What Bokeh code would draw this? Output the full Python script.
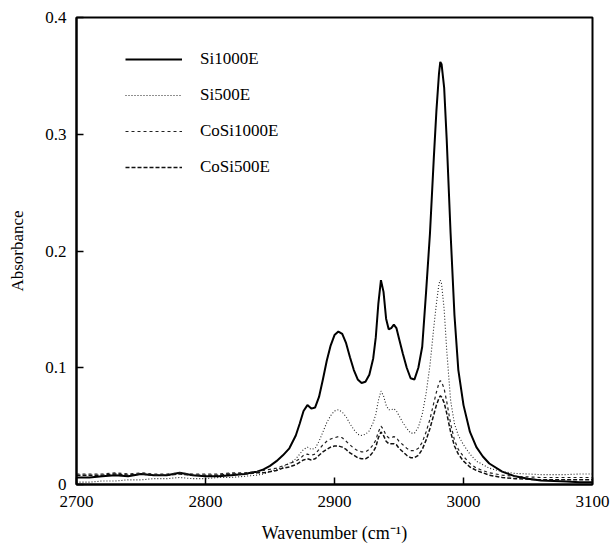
from bokeh.plotting import figure
from bokeh.models import Range1d, FixedTicker, CustomJSTickFormatter, Legend, LegendItem
from bokeh.embed import file_html
from bokeh.resources import INLINE

wavenumber = [2700, 2710, 2720, 2730, 2740, 2750, 2760, 2770, 2780, 2790, 2800, 2810, 2820, 2830,
              2840, 2845, 2850, 2855, 2860, 2865, 2870, 2873, 2876, 2879, 2882, 2885, 2888, 2891,
              2894, 2897, 2900, 2903, 2906, 2909, 2912, 2915, 2918, 2921, 2924, 2927, 2930, 2932,
              2934, 2936, 2938, 2940, 2942, 2944, 2946, 2948, 2950, 2953, 2956, 2959, 2962, 2965,
              2968, 2971, 2974, 2977, 2979, 2981, 2982, 2983, 2985, 2987, 2990, 2993, 2996, 3000,
              3005, 3010, 3015, 3020, 3030, 3040, 3050, 3060, 3070, 3080, 3090, 3100]

si1000e = [0.006, 0.006, 0.007, 0.008, 0.007, 0.009, 0.008, 0.008, 0.010, 0.008, 0.007, 0.007, 0.008, 0.009,
           0.011, 0.013, 0.016, 0.020, 0.025, 0.031, 0.042, 0.052, 0.063, 0.068, 0.065, 0.066, 0.075, 0.090,
           0.106, 0.119, 0.128, 0.131, 0.129, 0.121, 0.109, 0.098, 0.090, 0.087, 0.088, 0.094, 0.108, 0.126,
           0.155, 0.175, 0.165, 0.142, 0.133, 0.134, 0.137, 0.134, 0.125, 0.112, 0.100, 0.091, 0.090, 0.100,
           0.118, 0.165, 0.215, 0.280, 0.320, 0.352, 0.362, 0.360, 0.340, 0.295, 0.215, 0.145, 0.098, 0.068,
           0.045, 0.032, 0.024, 0.018, 0.011, 0.007, 0.005, 0.0035, 0.003, 0.0025, 0.002, 0.002]

si500e = [0.002, 0.002, 0.003, 0.003, 0.004, 0.004, 0.005, 0.005, 0.006, 0.005, 0.005, 0.006, 0.006, 0.007,
          0.008, 0.009, 0.011, 0.013, 0.015, 0.018, 0.022, 0.026, 0.030, 0.032, 0.030, 0.031, 0.037, 0.045,
          0.053, 0.059, 0.063, 0.064, 0.062, 0.058, 0.052, 0.047, 0.043, 0.042, 0.043, 0.046, 0.053, 0.060,
          0.072, 0.080, 0.076, 0.068, 0.064, 0.064, 0.065, 0.063, 0.059, 0.053, 0.048, 0.044, 0.044, 0.049,
          0.060, 0.078, 0.102, 0.135, 0.155, 0.172, 0.175, 0.172, 0.150, 0.115, 0.072, 0.052, 0.042, 0.034,
          0.026, 0.020, 0.017, 0.014, 0.011, 0.0095, 0.009, 0.0085, 0.0085, 0.0085, 0.009, 0.009]

cosi1000e = [0.009, 0.009, 0.009, 0.010, 0.009, 0.010, 0.009, 0.009, 0.010, 0.009, 0.009, 0.009, 0.010, 0.010,
             0.011, 0.012, 0.013, 0.014, 0.016, 0.018, 0.020, 0.022, 0.025, 0.026, 0.025, 0.026, 0.030, 0.034,
             0.037, 0.039, 0.040, 0.041, 0.040, 0.037, 0.034, 0.031, 0.029, 0.028, 0.028, 0.030, 0.034, 0.038,
             0.045, 0.050, 0.047, 0.042, 0.040, 0.040, 0.041, 0.040, 0.037, 0.034, 0.031, 0.029, 0.029, 0.031,
             0.036, 0.045, 0.056, 0.070, 0.079, 0.087, 0.089, 0.088, 0.082, 0.071, 0.052, 0.038, 0.030, 0.024,
             0.018, 0.014, 0.012, 0.010, 0.008, 0.007, 0.0065, 0.006, 0.006, 0.006, 0.006, 0.006]

cosi500e = [0.008, 0.008, 0.008, 0.009, 0.008, 0.009, 0.008, 0.008, 0.009, 0.008, 0.008, 0.008, 0.009, 0.009,
            0.010, 0.010, 0.011, 0.012, 0.014, 0.015, 0.017, 0.019, 0.021, 0.022, 0.021, 0.022, 0.025, 0.028,
            0.030, 0.032, 0.033, 0.033, 0.032, 0.030, 0.027, 0.025, 0.023, 0.022, 0.022, 0.024, 0.028, 0.032,
            0.040, 0.045, 0.042, 0.037, 0.035, 0.035, 0.035, 0.034, 0.031, 0.028, 0.025, 0.023, 0.023, 0.025,
            0.030, 0.038, 0.048, 0.060, 0.068, 0.074, 0.076, 0.075, 0.070, 0.061, 0.045, 0.033, 0.026, 0.020,
            0.015, 0.012, 0.010, 0.008, 0.006, 0.005, 0.0045, 0.004, 0.004, 0.004, 0.004, 0.004]

series_names = ["Si1000E", "Si500E", "CoSi1000E", "CoSi500E"]
x_ticks = [2700, 2800, 2900, 3000, 3100]
y_ticks = [0, 0.1, 0.2, 0.3, 0.4]

FONT = "Liberation Serif"

p = figure(width=611, height=551, output_backend="svg", toolbar_location=None,
           x_range=Range1d(2700, 3100), y_range=Range1d(0, 0.4),
           min_border_left=76, min_border_right=19, min_border_top=17, min_border_bottom=67)
p.background_fill_color = "white"
p.border_fill_color = "white"
p.outline_line_color = "black"
p.outline_line_width = 2
p.xgrid.visible = False
p.ygrid.visible = False

r1 = p.line(wavenumber, si1000e, line_color="black", line_width=2)
r2 = p.line(wavenumber, si500e, line_color="#222222", line_width=1.1, line_dash="1 2")
r3 = p.line(wavenumber, cosi1000e, line_color="#222222", line_width=1.2, line_dash="3 3")
r4 = p.line(wavenumber, cosi500e, line_color="#111111", line_width=1.5, line_dash="4 2")

for ax in (p.xaxis[0], p.yaxis[0]):
    ax.axis_line_color = "black"
    ax.axis_line_width = 2
    ax.major_tick_in = 7
    ax.major_tick_out = 0
    ax.minor_tick_line_color = None
    ax.major_tick_line_color = "black"
    ax.major_tick_line_width = 1.5
    ax.major_label_text_font = FONT
    ax.major_label_text_font_size = "17px"
    ax.major_label_text_color = "black"
    ax.axis_label_text_font = FONT
    ax.axis_label_text_font_size = "17px"
    ax.axis_label_text_font_style = "normal"
    ax.axis_label_text_color = "black"

p.xaxis[0].ticker = FixedTicker(ticks=x_ticks)
p.yaxis[0].ticker = FixedTicker(ticks=y_ticks)
p.yaxis[0].formatter = CustomJSTickFormatter(code="return tick == 0 ? '0' : tick.toFixed(1);")
p.xaxis[0].major_label_standoff = 11
p.yaxis[0].major_label_standoff = 10
p.xaxis[0].axis_label = "Wavenumber (cm\u207b\u00b9)"
p.xaxis[0].axis_label_text_font_size = "18px"
p.yaxis[0].axis_label = "Absorbance"
p.xaxis[0].axis_label_standoff = 13
p.yaxis[0].axis_label_standoff = 15

legend = Legend(items=[LegendItem(label=n, renderers=[r]) for n, r in zip(series_names, [r1, r2, r3, r4])],
                location=(49, 307), orientation="vertical",
                glyph_width=57, glyph_height=20, label_height=20, label_standoff=18,
                spacing=16, padding=0, margin=0,
                border_line_alpha=0, background_fill_alpha=0,
                label_text_font=FONT, label_text_font_size="17px", label_text_color="black")
p.add_layout(legend)

open("out.html", "w").write(file_html(p, INLINE))
